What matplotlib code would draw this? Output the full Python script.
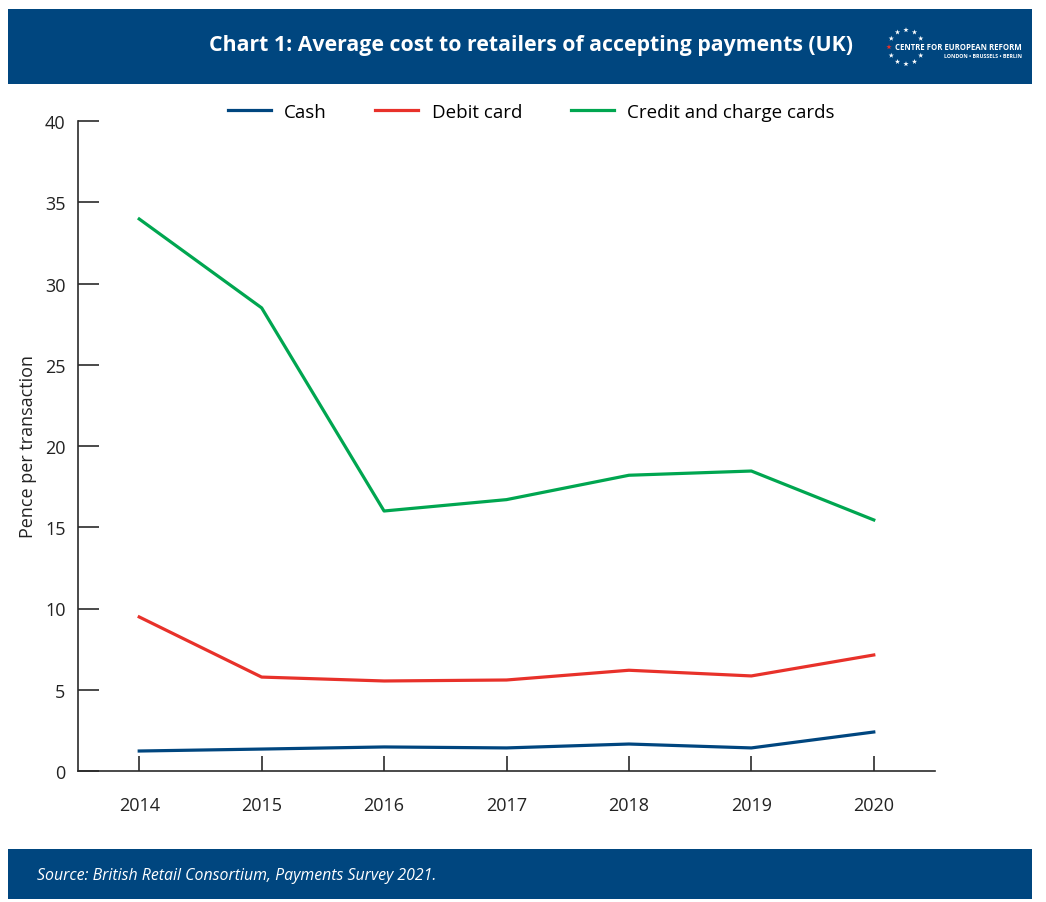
import matplotlib.pyplot as plt
from matplotlib.patches import Rectangle
import numpy as np

plt.rcParams['font.family'] = ['Open Sans', 'DejaVu Sans']

years = [2014, 2015, 2016, 2017, 2018, 2019, 2020]
cash = [1.23, 1.35, 1.48, 1.42, 1.66, 1.42, 2.4]
debit = [9.48, 5.78, 5.54, 5.6, 6.2, 5.85, 7.14]
credit = [33.97, 28.5, 16.0, 16.7, 18.2, 18.46, 15.45]

navy = '#00467f'
red = '#e8312a'
green = '#00a650'
axcol = '#2b2b2b'

fig = plt.figure(figsize=(10.46, 9.03), dpi=100)

# decoration layer in pixel coords
deco = fig.add_axes([0, 0, 1, 1], zorder=0)
deco.set_xlim(0, 1046)
deco.set_ylim(903, 0)
deco.axis('off')
deco.add_patch(Rectangle((8, 10), 1024, 75, color=navy, lw=0))
deco.add_patch(Rectangle((8, 850), 1024, 50, color=navy, lw=0))
deco.text(531, 46, 'Chart 1: Average cost to retailers of accepting payments (UK)',
          color='white', fontsize=15.3, fontweight='bold', ha='center', va='center')
deco.text(37, 876, 'Source: British Retail Consortium, Payments Survey 2021.',
          color='white', fontsize=11.4, style='italic', ha='left', va='center')

# logo: ring of stars
ang = np.deg2rad(np.arange(30, 360, 30))
sx = 906 + 17 * np.cos(ang)
sy = 48 - 17 * np.sin(ang)
cols = ['#e8312a' if abs(a - np.pi) < 0.01 else 'white' for a in ang]
deco.scatter(sx, sy, marker='*', s=16, c=cols, lw=0)
deco.text(895, 47, 'CENTRE FOR EUROPEAN REFORM', color='white', fontsize=5.6,
          fontweight='bold', ha='left', va='center')
deco.text(1022, 57, 'LONDON \u2022 BRUSSELS \u2022 BERLIN', color='white', fontsize=3.8,
          fontweight='bold', ha='right', va='center')

ax = fig.add_axes([78 / 1046, 131 / 903, (935 - 78) / 1046, 650 / 903], zorder=1)
ax.patch.set_alpha(0)
ax.plot(years, cash, color=navy, lw=2.3, label='Cash')
ax.plot(years, debit, color=red, lw=2.3, label='Debit card')
ax.plot(years, credit, color=green, lw=2.3, label='Credit and charge cards')

ax.set_xlim(2013.5, 2020.5)
ax.set_ylim(0, 40)
ax.set_xticks(years)
ax.set_yticks([0, 5, 10, 15, 20, 25, 30, 35, 40])
for s in ['top', 'right']:
    ax.spines[s].set_visible(False)
for s in ['left', 'bottom']:
    ax.spines[s].set_color(axcol)
    ax.spines[s].set_linewidth(1.2)
ax.tick_params(axis='y', direction='in', length=15, width=1.2, color=axcol,
               labelsize=13, pad=9, labelcolor='#222222')
ax.tick_params(axis='x', direction='in', length=11, width=1.2, color=axcol,
               labelsize=13, pad=18, labelcolor='#222222')
ax.set_ylabel('Pence per transaction', fontsize=13, color='#222222', labelpad=6)

fig.legend(loc='center', bbox_to_anchor=(531 / 1046, 1 - 113 / 903), ncol=3,
           frameon=False, fontsize=13.5, handlelength=2.3, handletextpad=0.7,
           columnspacing=2.6)

fig.savefig('out.png', dpi=100)
